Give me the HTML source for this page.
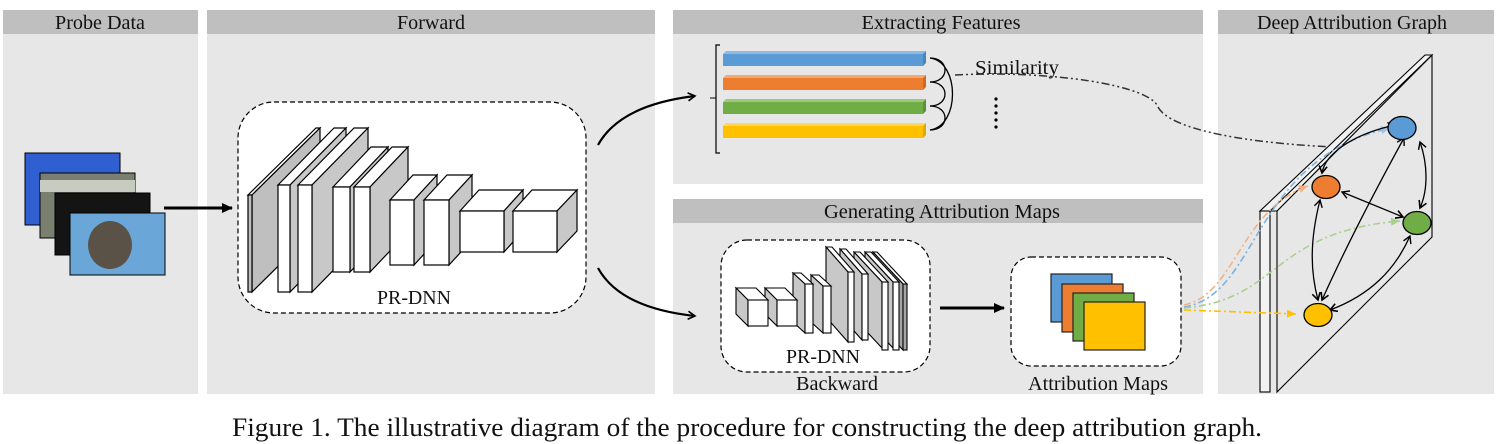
<!DOCTYPE html>
<html><head><meta charset="utf-8"><style>
html,body{margin:0;padding:0;background:#fff}
svg{display:block}
text{font-family:"Liberation Serif",serif;fill:#111}
</style></head><body>
<svg width="1497" height="444" viewBox="0 0 1497 444" xmlns="http://www.w3.org/2000/svg">
<defs>
<marker id="ah" markerWidth="10" markerHeight="10" refX="8" refY="5" orient="auto" markerUnits="userSpaceOnUse"><path d="M1,1 L8,5 L1,9" fill="none" stroke="#000" stroke-width="1.6"/></marker>
<marker id="as" markerWidth="10" markerHeight="10" refX="2" refY="5" orient="auto" markerUnits="userSpaceOnUse"><path d="M9,1 L2,5 L9,9" fill="none" stroke="#000" stroke-width="1.4"/></marker>
<marker id="tri" markerWidth="12" markerHeight="12" refX="10" refY="6" orient="auto" markerUnits="userSpaceOnUse"><path d="M0,1 L11,6 L0,11 z" fill="#000"/></marker>
<marker id="tO" markerWidth="10" markerHeight="10" refX="9" refY="5" orient="auto" markerUnits="userSpaceOnUse"><path d="M0,1 L9,5 L0,9 z" fill="#f4b183"/></marker>
<marker id="tB" markerWidth="10" markerHeight="10" refX="9" refY="5" orient="auto" markerUnits="userSpaceOnUse"><path d="M0,1 L9,5 L0,9 z" fill="#9dc3e6"/></marker>
<marker id="tG" markerWidth="10" markerHeight="10" refX="9" refY="5" orient="auto" markerUnits="userSpaceOnUse"><path d="M0,1 L9,5 L0,9 z" fill="#a9d18e"/></marker>
<marker id="tY" markerWidth="10" markerHeight="10" refX="9" refY="5" orient="auto" markerUnits="userSpaceOnUse"><path d="M0,1 L9,5 L0,9 z" fill="#ffc000"/></marker>
</defs>

<rect x="3" y="10" width="195" height="384" fill="#e7e7e7"/><rect x="3" y="10" width="195" height="24" fill="#bfbfbf"/>
<rect x="207" y="10" width="448" height="384" fill="#e7e7e7"/><rect x="207" y="10" width="448" height="24" fill="#bfbfbf"/>
<rect x="673" y="10" width="530" height="174" fill="#e7e7e7"/><rect x="673" y="10" width="530" height="24" fill="#bfbfbf"/>
<rect x="673" y="199" width="530" height="195" fill="#e7e7e7"/><rect x="673" y="199" width="530" height="24" fill="#bfbfbf"/>
<rect x="1218" y="10" width="276" height="384" fill="#e7e7e7"/><rect x="1218" y="10" width="276" height="24" fill="#bfbfbf"/>
<g font-size="19.5" text-anchor="middle">
<text x="100" y="29" textLength="90" lengthAdjust="spacingAndGlyphs">Probe Data</text>
<text x="431" y="29" textLength="68" lengthAdjust="spacingAndGlyphs">Forward</text>
<text x="941" y="29" textLength="159" lengthAdjust="spacingAndGlyphs">Extracting Features</text>
<text x="942" y="218" textLength="236" lengthAdjust="spacingAndGlyphs">Generating Attribution Maps</text>
<text x="1352" y="29" textLength="190" lengthAdjust="spacingAndGlyphs">Deep Attribution Graph</text>
</g>

<rect x="25" y="153" width="95" height="72" fill="#2f5fd0" stroke="#000"/>
<rect x="40" y="173" width="95" height="65" fill="#7a7f70" stroke="#000"/>
<rect x="40" y="180" width="95" height="12" fill="#c8ccc0"/>
<rect x="55" y="193" width="95" height="62" fill="#141414" stroke="#000"/>
<rect x="70" y="213" width="95" height="62" fill="#6aa7d8" stroke="#000"/>
<ellipse cx="110" cy="245" rx="22" ry="24" fill="#5a5246"/>
<line x1="164" y1="208" x2="232" y2="208" stroke="#000" stroke-width="3" marker-end="url(#tri)"/>

<rect x="238" y="102" width="348" height="211" rx="36" fill="#fff" stroke="#000" stroke-dasharray="5,3" stroke-width="1.2"/>
<g stroke="#000" stroke-width="1.2">
<polygon points="248,195 316,128 320,128 252,195" fill="#fff"/>
<polygon points="252,195 320,128 320,225 252,292" fill="#bfbfbf"/>
<rect x="248" y="195" width="4" height="97" fill="#bfbfbf"/>
<polygon points="278,185 334,128 346,128 290,185" fill="#fff"/><polygon points="290,185 346,128 346,235 290,292" fill="#c8c8c8"/><rect x="278" y="185" width="12" height="107" fill="#fff"/>
<polygon points="298,185 354,128 368,128 312,185" fill="#fff"/><polygon points="312,185 368,128 368,235 312,292" fill="#c8c8c8"/><rect x="298" y="185" width="14" height="107" fill="#fff"/>
<polygon points="333,187 371,147 388,147 350,187" fill="#fff"/><polygon points="350,187 388,147 388,232 350,272" fill="#c8c8c8"/><rect x="333" y="187" width="17" height="85" fill="#fff"/>
<polygon points="354,187 392,147 408,147 370,187" fill="#fff"/><polygon points="370,187 408,147 408,232 370,272" fill="#c8c8c8"/><rect x="354" y="187" width="16" height="85" fill="#fff"/>
<polygon points="390,200 413,175 437,175 414,200" fill="#fff"/><polygon points="414,200 437,175 437,240 414,265" fill="#c8c8c8"/><rect x="390" y="200" width="24" height="65" fill="#fff"/>
<polygon points="424,200 447,175 472,175 449,200" fill="#fff"/><polygon points="449,200 472,175 472,240 449,265" fill="#c8c8c8"/><rect x="424" y="200" width="25" height="65" fill="#fff"/>
<polygon points="460,211 479,190 523,190 504,211" fill="#fff"/><polygon points="504,211 523,190 523,231 504,252" fill="#c8c8c8"/><rect x="460" y="211" width="44" height="41" fill="#fff"/>
<polygon points="513,211 532,190 577,190 557,211" fill="#fff"/><polygon points="557,211 577,190 577,231 557,252" fill="#c8c8c8"/><rect x="513" y="211" width="44" height="41" fill="#fff"/>
</g>
<text x="414" y="304" font-size="20" text-anchor="middle" textLength="74" lengthAdjust="spacingAndGlyphs">PR-DNN</text>

<path d="M598,145 Q620,105 695,96" fill="none" stroke="#000" stroke-width="2.2" marker-end="url(#ah)"/>
<path d="M598,268 Q620,308 695,316" fill="none" stroke="#000" stroke-width="2.2" marker-end="url(#ah)"/>

<path d="M720,45 L716,45 L716,153 L720,153" fill="none" stroke="#000" stroke-width="1.2"/>
<line x1="710" y1="98" x2="716" y2="98" stroke="#000"/>
<g>
<rect x="723" y="54" width="200" height="12" fill="#5b9bd5"/><polygon points="723,54 726,51 926,51 923,54" fill="#8fb8e3"/><polygon points="923,54 926,51 926,63 923,66" fill="#4a85bd"/>
<rect x="723" y="78" width="200" height="12" fill="#ed7d31"/><polygon points="723,78 726,75 926,75 923,78" fill="#f4a874"/><polygon points="923,78 926,75 926,87 923,90" fill="#cf6a25"/>
<rect x="723" y="102" width="200" height="12" fill="#70ad47"/><polygon points="723,102 726,99 926,99 923,102" fill="#9bcb7a"/><polygon points="923,102 926,99 926,111 923,114" fill="#5c9338"/>
<rect x="723" y="126" width="200" height="12" fill="#ffc000"/><polygon points="723,126 726,123 926,123 923,126" fill="#ffd65a"/><polygon points="923,126 926,123 926,135 923,138" fill="#e0a800"/>
</g>
<g fill="none" stroke="#000" stroke-width="1.3">
<path d="M930,58 C950,58 950,82 930,82"/>
<path d="M930,82 C950,82 950,106 930,106"/>
<path d="M930,106 C950,106 950,130 930,130"/>
<path d="M930,58 C960,62 960,126 930,130"/>
</g>
<text x="975" y="74" font-size="20" textLength="84" lengthAdjust="spacingAndGlyphs">Similarity</text>
<g fill="#000"><circle cx="996" cy="99" r="1.6"/><circle cx="996" cy="106" r="1.6"/><circle cx="996" cy="113" r="1.6"/><circle cx="996" cy="120" r="1.6"/><circle cx="996" cy="127" r="1.6"/></g>
<path d="M955,75 C1050,70 1150,85 1158,107 C1170,130 1250,145 1360,148" fill="none" stroke="#333" stroke-width="1.5" stroke-dasharray="8,3,2,3,2,3"/>

<rect x="721" y="240" width="209" height="132" rx="26" fill="#fff" stroke="#000" stroke-dasharray="5,3" stroke-width="1.2"/>
<g stroke="#000" stroke-width="1.1">
<polygon points="907,284 877,252 873,252 903,284" fill="#fff"/><polygon points="903,284 873,252 873,318 903,350" fill="#a6a6a6"/><rect x="903" y="284" width="4" height="66" fill="#a6a6a6"/>
<polygon points="899,282 871,252 865,252 893,282" fill="#fff"/><polygon points="893,282 865,252 865,318 893,348" fill="#c8c8c8"/><rect x="893" y="282" width="6" height="68" fill="#fff"/>
<polygon points="888,282 860,252 854,252 882,282" fill="#fff"/><polygon points="882,282 854,252 854,318 882,348" fill="#c8c8c8"/><rect x="882" y="282" width="6" height="68" fill="#fff"/>
<polygon points="868,274 846,249 840,249 862,274" fill="#fff"/><polygon points="862,274 840,249 840,315 862,340" fill="#c8c8c8"/><rect x="862" y="274" width="6" height="66" fill="#fff"/>
<polygon points="854,272 832,247 826,247 848,272" fill="#fff"/><polygon points="848,272 826,247 826,317 848,342" fill="#c8c8c8"/><rect x="848" y="272" width="6" height="70" fill="#fff"/>
<polygon points="831,286 819,275 811,275 823,286" fill="#fff"/><polygon points="823,286 811,275 811,322 823,333" fill="#c8c8c8"/><rect x="823" y="286" width="8" height="47" fill="#fff"/>
<polygon points="813,284 801,273 793,273 805,284" fill="#fff"/><polygon points="805,284 793,273 793,322 805,333" fill="#c8c8c8"/><rect x="805" y="284" width="8" height="49" fill="#fff"/>
<polygon points="797,300 785,288 765,288 777,300" fill="#fff"/><polygon points="777,300 765,288 765,314 777,326" fill="#c8c8c8"/><rect x="777" y="300" width="20" height="26" fill="#fff"/>
<polygon points="768,300 756,288 736,288 748,300" fill="#fff"/><polygon points="748,300 736,288 736,314 748,326" fill="#c8c8c8"/><rect x="748" y="300" width="20" height="26" fill="#fff"/>
</g>
<text x="823" y="363" font-size="20" text-anchor="middle" textLength="74" lengthAdjust="spacingAndGlyphs">PR-DNN</text>
<text x="837" y="390" font-size="20" text-anchor="middle" textLength="82" lengthAdjust="spacingAndGlyphs">Backward</text>
<line x1="940" y1="308" x2="1004" y2="308" stroke="#000" stroke-width="3" marker-end="url(#tri)"/>

<rect x="1011" y="257" width="170" height="109" rx="20" fill="#fff" stroke="#000" stroke-dasharray="5,3" stroke-width="1.2"/>
<g stroke="#222" stroke-width="1.2">
<rect x="1051" y="274" width="61" height="48" fill="#5b9bd5"/>
<rect x="1062" y="284" width="61" height="48" fill="#ed7d31"/>
<rect x="1073" y="293" width="61" height="48" fill="#70ad47"/>
<rect x="1084" y="302" width="61" height="48" fill="#ffc000"/>
</g>
<text x="1098" y="390" font-size="20" text-anchor="middle" textLength="140" lengthAdjust="spacingAndGlyphs">Attribution Maps</text>

<g stroke="#000" stroke-width="1.1" fill="none">
<polygon points="1277,211 1432,55 1432,237 1277,392" fill="#e7e7e7"/>
<polygon points="1260,211 1425,55 1432,55 1277,211" fill="#f2f2f2"/>
<rect x="1260" y="211" width="10" height="181" fill="#f2f2f2"/>
<line x1="1270" y1="211" x2="1432" y2="55"/>
</g>
<g fill="none" stroke-width="1.6" stroke-dasharray="7,3,2,3">
<path d="M1184,305 C1235,295 1240,210 1308,186" stroke="#f4b183" marker-end="url(#tO)"/>
<path d="M1184,307 C1260,295 1250,160 1390,128" stroke="#7fb2e0" marker-end="url(#tB)"/>
<path d="M1184,308 C1280,300 1270,232 1400,221" stroke="#a9d18e" marker-end="url(#tG)"/>
<path d="M1184,310 L1296,314" stroke="#ffc000" marker-end="url(#tY)"/>
</g>
<g fill="none" stroke="#000" stroke-width="1.3" marker-start="url(#as)" marker-end="url(#ah)">
<path d="M1395,125 C1350,135 1325,155 1322,173"/>
<path d="M1420,142 C1428,165 1428,190 1420,208"/>
<path d="M1404,138 C1370,200 1340,260 1322,300"/>
<path d="M1342,192 L1403,217"/>
<path d="M1320,200 C1310,240 1310,270 1318,300"/>
<path d="M1410,236 C1395,270 1370,295 1330,310"/>
</g>
<g stroke="#000" stroke-width="1.3">
<ellipse cx="1402" cy="128" rx="14" ry="11.5" fill="#5b9bd5"/>
<ellipse cx="1326" cy="187" rx="14" ry="11.5" fill="#ed7d31"/>
<ellipse cx="1417" cy="223" rx="14" ry="11.5" fill="#70ad47"/>
<ellipse cx="1318" cy="315" rx="14" ry="11.5" fill="#ffc000"/>
</g>

<text x="747" y="436" font-size="26" text-anchor="middle" textLength="1030" lengthAdjust="spacingAndGlyphs">Figure 1. The illustrative diagram of the procedure for constructing the deep attribution graph.</text>
</svg>
</body></html>
